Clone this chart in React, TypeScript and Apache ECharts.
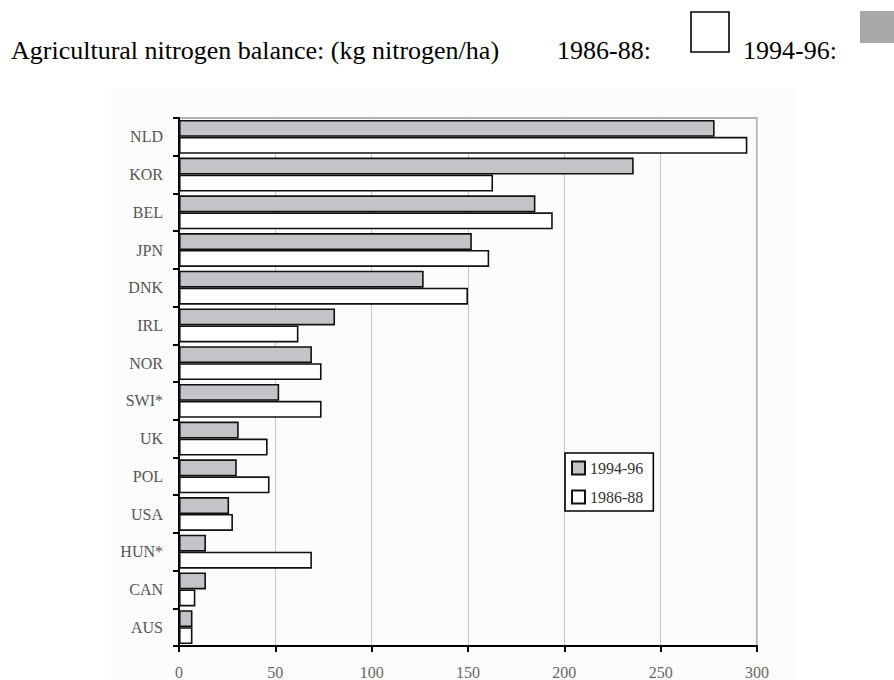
import React, { useEffect, useRef } from "react";
import * as echarts from "echarts";

const categories = ["NLD", "KOR", "BEL", "JPN", "DNK", "IRL", "NOR", "SWI*", "UK", "POL", "USA", "HUN*", "CAN", "AUS"];
const values9496 = [278, 236, 185, 152, 127, 81, 69, 52, 31, 30, 26, 14, 14, 7];
const values8688 = [295, 163, 194, 161, 150, 62, 74, 74, 46, 47, 28, 69, 8.5, 7];
const xTicks = { min: 0, max: 300, interval: 50 };
const legendNames = ["1994-96", "1986-88"];
const titleText = "Agricultural nitrogen balance: (kg nitrogen/ha)";
const headerLabels = ["1986-88:", "1994-96:"];

const SERIF = "'Liberation Serif', 'Times New Roman', serif";

export default function App() {
  const ref = useRef<HTMLDivElement>(null);
  useEffect(() => {
    document.body.style.margin = "0";
    if (!ref.current) return;
    const chart = echarts.init(ref.current, undefined, { renderer: "svg" });
    const barBorder = { borderColor: "#111", borderWidth: 1.6 };
    chart.setOption({
      animation: false,
      backgroundColor: "#ffffff",
      graphic: [
        { type: "rect", z: -10, shape: { x: 105, y: 88, width: 692, height: 600 }, style: { fill: "#fcfcfc" } },
        { type: "text", x: 11, y: 37, style: { text: titleText, font: `26px ${SERIF}`, fill: "#000", textBaseline: "alphabetic" } },
        { type: "text", x: 557, y: 37, style: { text: headerLabels[0], font: `26px ${SERIF}`, fill: "#000", textBaseline: "alphabetic" } },
        { type: "rect", shape: { x: 691, y: 12, width: 38, height: 40 }, style: { fill: "#fff", stroke: "#000", lineWidth: 1.6 } },
        { type: "text", x: 743, y: 37, style: { text: headerLabels[1], font: `26px ${SERIF}`, fill: "#000", textBaseline: "alphabetic" } },
        { type: "rect", shape: { x: 860, y: 11, width: 40, height: 32 }, style: { fill: "#a9a9a9" } },
      ],
      grid: {
        left: 179,
        top: 118,
        right: 137,
        bottom: 31,
        show: true,
        borderColor: "#999",
        borderWidth: 1.5,
        backgroundColor: "transparent",
      },
      legend: {
        data: legendNames,
        orient: "vertical",
        left: 565,
        top: 453,
        padding: [7, 10, 6, 6],
        itemGap: 13,
        itemWidth: 13,
        itemHeight: 13,
        borderColor: "#000",
        borderWidth: 1.6,
        backgroundColor: "#fff",
        icon: "rect",
        textStyle: { fontFamily: SERIF, fontSize: 16, color: "#333" },
      },
      xAxis: {
        type: "value",
        min: xTicks.min,
        max: xTicks.max,
        interval: xTicks.interval,
        axisLine: { show: true, lineStyle: { color: "#000", width: 2 } },
        axisTick: { show: true, length: 6, lineStyle: { color: "#000", width: 2 } },
        axisLabel: { fontFamily: SERIF, fontSize: 16, color: "#666", margin: 18 },
        splitLine: { show: true, lineStyle: { color: "#c8c8c8", width: 1 } },
      },
      yAxis: {
        type: "category",
        data: categories,
        inverse: true,
        axisLine: { show: true, lineStyle: { color: "#000", width: 2 } },
        axisTick: { show: true, length: 6, lineStyle: { color: "#000", width: 2 } },
        axisLabel: { fontFamily: SERIF, fontSize: 16, color: "#555", margin: 16, padding: [0, 0, 5, 0] },
        splitLine: { show: false },
      },
      series: [
        {
          name: legendNames[0],
          type: "bar",
          data: values9496,
          barGap: "0%",
          barCategoryGap: "10%",
          itemStyle: { color: "#c5c3c7", ...barBorder },
        },
        {
          name: legendNames[1],
          type: "bar",
          data: values8688,
          barGap: "0%",
          barCategoryGap: "10%",
          itemStyle: { color: "#ffffff", ...barBorder },
        },
      ],
    });
    return () => chart.dispose();
  }, []);
  return <div ref={ref} style={{ width: 894, height: 680 }} />;
}
